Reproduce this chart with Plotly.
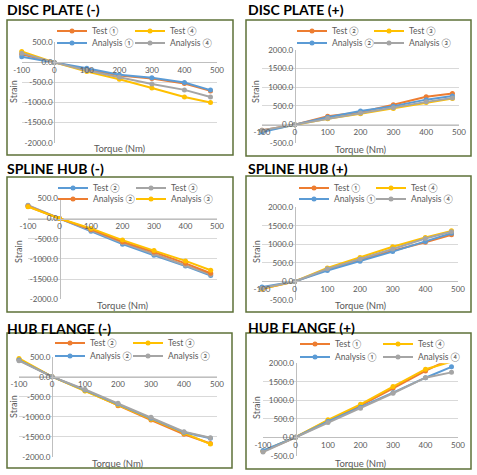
import plotly.graph_objects as go

W, H = 477, 475

# ---------------- data ----------------
torque = [-100, 0, 100, 200, 300, 400, 480]
x_tick_vals = [-100, 0, 100, 200, 300, 400, 500]
x_tick_text = ["-100", "0", "100", "200", "300", "400", "500"]
y_ticks_neg = [-2000, -1500, -1000, -500, 0, 500]
y_text_neg = ["-2000.0", "-1500.0", "-1000.0", "-500.0", "0.0", "500.0"]
y_ticks_pos = [-500, 0, 500, 1000, 1500, 2000]
y_text_pos = ["-500.0", "0.0", "500.0", "1000.0", "1500.0", "2000.0"]

panel_titles = ["DISC PLATE (-)", "DISC PLATE (+)", "SPLINE HUB (-)",
                "SPLINE HUB (+)", "HUB FLANGE (-)", "HUB FLANGE (+)"]

# DISC PLATE (-)
dp_neg_names = ["Test ①", "Test ④", "Analysis ①", "Analysis ④"]
dp_neg_test1 = [200, 0, -180, -330, -400, -525, -710]
dp_neg_test4 = [270, 0, -230, -420, -640, -860, -1000]
dp_neg_ana1 = [140, 0, -145, -310, -380, -500, -690]
dp_neg_ana4 = [230, 0, -200, -370, -540, -685, -860]

# DISC PLATE (+)
dp_pos_names = ["Test ②", "Test ③", "Analysis ②", "Analysis ③"]
dp_pos_test2 = [-150, 0, 225, 335, 535, 745, 835]
dp_pos_test3 = [-170, 0, 155, 290, 435, 590, 700]
dp_pos_ana2 = [-200, 0, 200, 365, 490, 670, 770]
dp_pos_ana3 = [-150, 0, 170, 310, 455, 610, 715]

# SPLINE HUB (-)
sh_neg_names = ["Test ②", "Test ③", "Analysis ②", "Analysis ③"]
sh_neg_test2 = [320, 0, -315, -635, -910, -1175, -1410]
sh_neg_test3 = [330, 0, -290, -600, -880, -1160, -1385]
sh_neg_ana2 = [300, 0, -270, -575, -830, -1110, -1355]
sh_neg_ana3 = [290, 0, -245, -535, -795, -1050, -1280]

# SPLINE HUB (+)
sh_pos_names = ["Test ①", "Test ④", "Analysis ①", "Analysis ④"]
sh_pos_test1 = [-200, 0, 320, 580, 830, 1055, 1260]
sh_pos_test4 = [-200, 0, 365, 645, 935, 1185, 1365]
sh_pos_ana1 = [-150, 0, 295, 545, 805, 1080, 1300]
sh_pos_ana4 = [-180, 0, 340, 605, 875, 1160, 1340]

# HUB FLANGE (-)
hf_neg_names = ["Test ②", "Test ③", "Analysis ②", "Analysis ③"]
hf_neg_test2 = [430, 0, -350, -725, -1085, -1440, -1670]
hf_neg_test3 = [455, 0, -360, -710, -1065, -1415, -1685]
hf_neg_ana2 = [415, 0, -335, -685, -1040, -1390, -1540]
hf_neg_ana3 = [400, 0, -320, -665, -1015, -1375, -1525]

# HUB FLANGE (+)
hf_pos_names = ["Test ①", "Test ④", "Analysis ①", "Analysis ④"]
hf_pos_test1 = [-380, 0, 450, 855, 1325, 1795, 2135]
hf_pos_test4 = [-370, 0, 470, 890, 1370, 1840, 2045]
hf_pos_ana1 = [-360, 0, 425, 810, 1205, 1610, 1905]
hf_pos_ana4 = [-400, 0, 395, 785, 1190, 1610, 1755]

ORANGE, YELLOW, BLUE, GRAY = "#ED7D31", "#FFC000", "#5B9BD5", "#A5A5A5"

panels = [
    dict(names=dp_neg_names, series=[dp_neg_test1, dp_neg_test4, dp_neg_ana1, dp_neg_ana4],
         colors=[ORANGE, YELLOW, BLUE, GRAY], yr=[-2000, 500], yt=(y_ticks_neg, y_text_neg)),
    dict(names=dp_pos_names, series=[dp_pos_test2, dp_pos_test3, dp_pos_ana2, dp_pos_ana3],
         colors=[ORANGE, YELLOW, BLUE, GRAY], yr=[-500, 2000], yt=(y_ticks_pos, y_text_pos)),
    dict(names=sh_neg_names, series=[sh_neg_test2, sh_neg_test3, sh_neg_ana2, sh_neg_ana3],
         colors=[BLUE, GRAY, ORANGE, YELLOW], yr=[-2000, 500], yt=(y_ticks_neg, y_text_neg)),
    dict(names=sh_pos_names, series=[sh_pos_test1, sh_pos_test4, sh_pos_ana1, sh_pos_ana4],
         colors=[ORANGE, YELLOW, BLUE, GRAY], yr=[-500, 2000], yt=(y_ticks_pos, y_text_pos)),
    dict(names=hf_neg_names, series=[hf_neg_test2, hf_neg_test3, hf_neg_ana2, hf_neg_ana3],
         colors=[ORANGE, YELLOW, BLUE, GRAY], yr=[-2000, 500], yt=(y_ticks_neg, y_text_neg)),
    dict(names=hf_pos_names, series=[hf_pos_test1, hf_pos_test4, hf_pos_ana1, hf_pos_ana4],
         colors=[ORANGE, YELLOW, BLUE, GRAY], yr=[-500, 2000], yt=(y_ticks_pos, y_text_pos)),
]

# ---------------- layout geometry (pixels) ----------------
geo = [
    dict(box=(7, 20, 233, 155), px=(21.7, 217), py=(142.7, 42.3), title=(5, 10),
         leg=(67, 137, 31, 43), strain=(13, 92), torq=(120, 148)),
    dict(box=(246, 20, 471, 156), px=(262, 459), py=(143.3, 50), title=(246, 10),
         leg=(307, 376, 31, 43), strain=(255, 92), torq=(361, 149)),
    dict(box=(7, 177, 233, 312), px=(28, 217), py=(299.3, 198.3), title=(5, 168),
         leg=(68, 138, 188, 199), strain=(18, 252), torq=(123, 305)),
    dict(box=(246, 176, 471, 312), px=(262, 458), py=(300, 207.3), title=(246, 168),
         leg=(309, 378, 188, 199), strain=(256, 252), torq=(361, 305)),
    dict(box=(7, 333, 232, 468), px=(19, 217), py=(456.7, 356.7), title=(5, 328),
         leg=(65, 135, 343, 356), strain=(13, 407), torq=(118, 463)),
    dict(box=(246, 333, 471, 469), px=(263, 458), py=(455.7, 363.3), title=(246, 327),
         leg=(310, 385, 344, 357), strain=(256, 408), torq=(361, 463)),
]


def fx(p):
    return p / W


def fy(p):
    return 1 - p / H


FONT = "Lato, 'Noto Sans CJK JP', sans-serif"
TXT = "#595959"

fig = go.Figure()
layout = dict(width=W, height=H, margin=dict(l=0, r=0, t=0, b=0, autoexpand=False),
              paper_bgcolor="white", plot_bgcolor="rgba(0,0,0,0)", showlegend=True,
              font=dict(family=FONT, color=TXT, size=9))
shapes, annotations = [], []

for i, (p, g) in enumerate(zip(panels, geo)):
    n = i + 1
    xa = "x" if n == 1 else f"x{n}"
    ya = "y" if n == 1 else f"y{n}"
    xr = [-100, 500]
    yr = p["yr"]
    x0, x1 = g["px"]
    yb, yt_ = g["py"]
    zx = x0 + (0 - xr[0]) / (xr[1] - xr[0]) * (x1 - x0)
    zy = yb + (0 - yr[0]) / (yr[1] - yr[0]) * (yt_ - yb)
    layout["xaxis" if n == 1 else f"xaxis{n}"] = dict(
        domain=[fx(x0), fx(x1)], range=xr, anchor="free", position=fy(zy),
        tickvals=x_tick_vals, ticktext=x_tick_text, showgrid=False, zeroline=False,
        showline=True, linecolor="#BFBFBF", linewidth=1, ticks="",
        tickfont=dict(size=8, color=TXT, family=FONT), fixedrange=True)
    layout["yaxis" if n == 1 else f"yaxis{n}"] = dict(
        domain=[fy(yb), fy(yt_)], range=yr, anchor="free", position=fx(zx),
        tickvals=p["yt"][0], ticktext=p["yt"][1], showgrid=True, gridcolor="#D9D9D9",
        gridwidth=1, zeroline=False, showline=True, linecolor="#BFBFBF", linewidth=1,
        ticks="", tickfont=dict(size=8, color=TXT, family=FONT), fixedrange=True)

    lx1, lx2, ly1, ly2 = g["leg"]
    for k, (name, vals, col) in enumerate(zip(p["names"], p["series"], p["colors"])):
        idx = 4 * i + k
        lid = "legend" if idx == 0 else f"legend{idx + 1}"
        fig.add_trace(go.Scatter(
            x=torque, y=vals, name=name, mode="lines+markers", xaxis=xa, yaxis=ya,
            line=dict(color=col, width=2), marker=dict(color=col, size=5, symbol="circle"),
            cliponaxis=False, legend=lid, hoverinfo="skip"))
        lx = (lx1 - 15, lx2 - 7)[k % 2]
        ly = (ly1, ly2)[k // 2]
        layout[lid] = dict(x=fx(lx), y=fy(ly), xanchor="left", yanchor="middle",
                           orientation="h", bgcolor="rgba(0,0,0,0)", borderwidth=0,
                           font=dict(size=8.5, color=TXT, family=FONT),
                           itemwidth=30, tracegroupgap=0)

    bx0, by0, bx1, by1 = g["box"]
    shapes.append(dict(type="rect", xref="paper", yref="paper", x0=fx(bx0), x1=fx(bx1),
                       y0=fy(by1), y1=fy(by0), line=dict(color="#5E7138", width=1.5),
                       fillcolor="rgba(0,0,0,0)", layer="above"))
    annotations.append(dict(text=f"<b>{panel_titles[i]}</b>", xref="paper", yref="paper",
                            x=fx(g["title"][0]), y=fy(g["title"][1]), xanchor="left",
                            yanchor="middle", showarrow=False,
                            font=dict(size=14, color="black", family=FONT)))
    annotations.append(dict(text="Strain", xref="paper", yref="paper", x=fx(g["strain"][0]),
                            y=fy(g["strain"][1]), xanchor="center", yanchor="middle",
                            textangle=-90, showarrow=False,
                            font=dict(size=9, color=TXT, family=FONT)))
    annotations.append(dict(text="Torque (Nm)", xref="paper", yref="paper", x=fx(g["torq"][0]),
                            y=fy(g["torq"][1]), xanchor="center", yanchor="middle",
                            showarrow=False, font=dict(size=9.5, color=TXT, family=FONT)))

layout["shapes"] = shapes
layout["annotations"] = annotations
fig.update_layout(**layout)
fig.write_html("out.html", config={"displayModeBar": False},
               post_script="document.body.style.margin='0';document.body.style.overflow='hidden';")
